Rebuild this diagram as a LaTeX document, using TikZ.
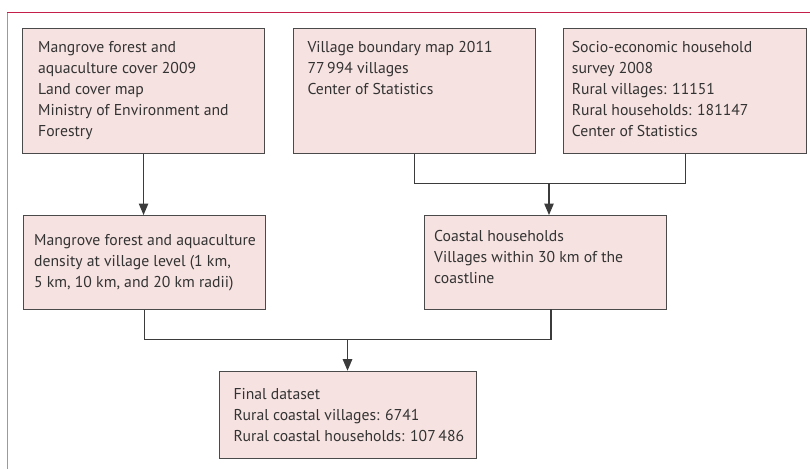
\documentclass[tikz,border=0pt]{standalone}
\usepackage{fontspec}
\setmainfont{PT Sans}
\usetikzlibrary{arrows.meta,calc}
\definecolor{boxfill}{HTML}{F6E2E0}
\definecolor{boxline}{HTML}{4A4A4A}
\definecolor{frametop}{HTML}{C41E4A}
\definecolor{frameleft}{HTML}{DA7AA0}
\definecolor{txt}{HTML}{333333}
\newcommand\boxtext[1]{\parbox[t]{260pt}{\raggedright\baselineskip=21pt #1}}
\tikzset{
  boxnode/.style={draw=boxline, fill=boxfill, line width=1.1pt, rectangle, inner sep=0pt, anchor=north west},
  txtnode/.style={inner sep=0pt, anchor=base west, text=txt, font=\fontsize{15.7}{21}\selectfont},
  conn/.style={draw=boxline!80!black, line width=1.1pt},
  arr/.style={conn, -{Triangle[width=9.5pt,length=11.5pt]}}
}
\begin{document}
\begin{tikzpicture}[x=1pt,y=-1pt]
\useasboundingbox (0,0) rectangle (810,469);
% frame
\draw[frameleft, line width=1.3pt] (7.7,12.7) -- (7.7,469);
\draw[frametop, line width=1.3pt] (7.1,12.7) -- (810,12.7);
% boxes
\node[boxnode, minimum width=242pt, minimum height=124.5pt] (b1) at (22,28) {};
\node[boxnode, minimum width=242.3pt, minimum height=124.5pt] (b2) at (292.7,28) {};
\node[boxnode, minimum width=242.7pt, minimum height=124.5pt] (b3) at (563.3,28) {};
\node[boxnode, minimum width=242.5pt, minimum height=94pt] (b4) at (22.5,215) {};
\node[boxnode, minimum width=242pt, minimum height=94pt] (b5) at (423.7,215) {};
\node[boxnode, minimum width=257pt, minimum height=87.3pt] (b6) at (218.7,370.7) {};
% texts
\node[txtnode] (t1) at (38,52.7) {\boxtext{Mangrove forest and\\aquaculture cover 2009\\Land cover map\\Ministry of Environment and\\Forestry}};
\node[txtnode] (t2) at (307.3,52.7) {\boxtext{Village boundary map 2011\\77\,994 villages\\Center of Statistics}};
\node[txtnode] (t3) at (571.7,52) {\boxtext{Socio-economic household\\survey 2008\\Rural villages: 11151\\Rural households: 181147\\Center of Statistics}};
\node[txtnode] (t4) at (34,245.5) {\boxtext{Mangrove forest and aquaculture\\density at village level (1 km,\\5 km, 10 km, and 20 km radii)}};
\node[txtnode] (t5) at (434,241) {\boxtext{Coastal households\\Villages within 30 km of the\\coastline}};
\node[txtnode] (t6) at (233.3,399) {\boxtext{Final dataset\\Rural coastal villages: 6741\\Rural coastal households: 107\,486}};
% connectors
\coordinate (j1) at (549,183.3);
\coordinate (b5s) at (551,309);
\coordinate (j2) at (347.5,339.3);
\draw[arr] (b1.south) -- (b1.south |- b4.north);
\draw[conn] (b2.south) -- (b2.south |- j1) -- (b3.south |- j1) -- (b3.south);
\draw[arr] (j1) -- (j1 |- b5.north);
\draw[conn] (b4.south) -- (b4.south |- j2) -- (b5s |- j2) -- (b5s);
\draw[arr] (j2) -- (j2 |- b6.north);
\end{tikzpicture}
\end{document}
